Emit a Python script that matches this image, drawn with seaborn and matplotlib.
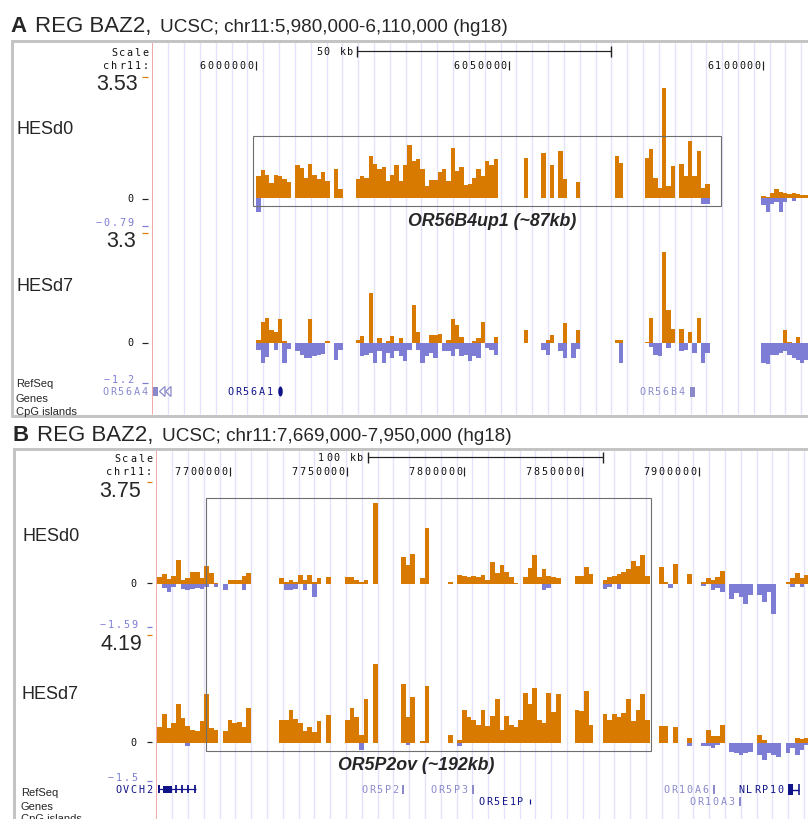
import numpy as np
import pandas as pd
import matplotlib
matplotlib.use("Agg")
import matplotlib.pyplot as plt
from matplotlib.patches import Rectangle, Polygon, Ellipse
import seaborn as sns

W, H = 808, 820
sns.set_theme(style="white")
plt.rcParams["font.family"] = ["Liberation Sans", "DejaVu Sans"]

_ = np.nan

# ---------------- data ----------------
# Panel A: chr11 5,980,000-6,110,000, signal binned at 0.85 kb
A_FIRST_KB, A_STEP_KB = 6000.6, 0.85
A_D0_POS = [
    0.66, 0.82, 0.69, 0.45, 0.69, 0.66, 0.55, 0.48, _, 0.98,
    0.89, 0.60, 1.01, 0.69, 0.55, 0.76, 0.50, _, 0.86, 0.26,
    _, _, _, 0.55, 0.65, 0.60, 1.24, 1.00, 0.86, 0.92,
    0.50, 0.69, 0.98, 0.50, 0.98, 1.55, 1.08, 1.13, 0.86, 0.36,
    0.53, 0.53, 0.76, 0.86, 0.50, 1.45, 0.80, 0.92, 0.38, 0.43,
    0.60, 0.84, 0.66, 1.08, 0.98, 1.13, _, _, _, _,
    _, _, 1.16, _, _, _, 1.32, _, 0.98, _,
    1.37, 0.55, _, _, 0.47, _, _, _, _, _,
    _, _, _, 1.24, 1.03, _, _, _, _, _,
    1.18, 1.42, 0.60, 0.30, 3.20, 0.36, 0.95, _, 1.00, 0.65,
    1.66, 0.65, 1.37, 0.30, 0.43, _, _, _, _, _,
    _, _, _, _, _, _, _, 0.07, 0.05, 0.16,
    0.28, 0.20, 0.15, 0.12, 0.15, 0.12, 0.10, 0.10,
]
A_D0_NEG = [
    -0.40, _, _, _, _, _, _, _, _, _,
    _, _, _, _, _, _, _, _, _, _,
    _, _, _, _, _, _, _, _, _, _,
    _, _, _, _, _, _, _, _, _, _,
    _, _, _, _, _, _, _, _, _, _,
    _, _, _, _, _, _, _, _, _, _,
    _, _, _, _, _, _, _, _, _, _,
    _, _, _, _, _, _, _, _, _, _,
    _, _, _, _, _, _, _, _, _, _,
    _, _, _, _, _, _, _, _, _, _,
    _, _, _, -0.15, -0.15, _, _, _, _, _,
    _, _, _, _, _, _, _, -0.20, -0.40, -0.15,
    -0.10, -0.38, -0.10, _, -0.08, _, _, _,
]
A_D7_POS = [
    0.10, 0.63, 0.74, 0.40, 0.32, 0.71, 0.05, _, _, _,
    _, _, 0.71, _, _, _, 0.07, _, _, _,
    _, _, _, 0.10, 0.22, _, 1.52, _, 0.15, _,
    0.07, 0.22, _, 0.15, _, _, 1.13, 0.32, _, _,
    0.25, 0.25, 0.28, _, 0.08, 0.71, 0.53, 0.18, _, _,
    0.05, 0.15, 0.63, _, _, 0.18, _, _, _, _,
    _, _, 0.38, _, _, _, _, 0.08, 0.25, _,
    _, 0.59, _, _, 0.38, _, _, _, _, _,
    _, _, _, 0.10, 0.10, _, _, _, _, _,
    0.04, 0.74, _, _, 2.73, 1.00, 0.42, _, 0.42, _,
    0.32, _, 0.74, _, _, _, _, _, _, _,
    _, _, _, _, _, _, _, _, _, _,
    _, _, 0.38, 0.04, _, 0.18, _, _,
]
A_D7_NEG = [
    -0.20, -0.60, -0.42, _, -0.20, _, -0.59, -0.18, _, -0.25,
    -0.35, -0.45, -0.45, -0.40, -0.35, -0.33, _, _, -0.52, -0.20,
    _, _, _, _, -0.40, -0.35, -0.30, -0.60, -0.25, -0.60,
    -0.30, -0.45, -0.25, -0.40, -0.55, -0.20, _, -0.20, -0.59, -0.40,
    -0.30, -0.45, _, -0.25, -0.25, -0.40, -0.18, -0.40, -0.35, -0.55,
    -0.40, -0.45, _, -0.15, -0.20, -0.35, _, _, _, _,
    _, _, _, _, _, _, -0.20, -0.35, _, _,
    -0.25, -0.45, _, -0.45, -0.18, _, _, _, _, _,
    _, _, _, _, -0.60, _, _, _, _, _,
    _, -0.12, -0.35, -0.40, _, -0.15, _, _, -0.25, -0.20,
    _, -0.30, _, -0.60, -0.30, _, _, _, _, _,
    _, _, _, _, _, _, _, -0.60, -0.62, -0.35,
    -0.35, -0.30, -0.25, -0.35, -0.45, -0.52, -0.60, -0.50,
]

# Panel B: chr11 7,669,000-7,950,000, signal binned at 2 kb
B_FIRST_KB, B_STEP_KB = 7670.0, 2.0
B_D0_POS = [
    0.25, 0.36, 0.18, 0.30, 0.90, 0.14, 0.20, 0.45, 0.45, 0.20,
    0.66, 0.41, 0.04, _, _, 0.16, 0.16, 0.16, 0.29, 0.41,
    _, _, _, _, _, _, 0.20, 0.07, 0.14, 0.08,
    0.33, 0.14, 0.33, 0.08, 0.20, _, 0.24, _, _, _,
    0.24, 0.24, 0.16, 0.07, 0.14, _, 3.00, _, _, _,
    _, _, 1.00, 0.70, 1.10, _, 0.20, 2.07, _, _,
    _, _, 0.07, _, 0.33, 0.30, 0.24, 0.29, 0.24, 0.33,
    0.14, 0.82, 0.40, 0.70, 0.45, 0.24, 0.04, _, 0.24, 0.60,
    1.06, 0.24, 0.55, 0.28, 0.24, 0.20, _, _, _, 0.29,
    0.30, 0.62, 0.35, _, _, 0.14, 0.24, 0.29, 0.35, 0.45,
    0.55, 0.86, 0.66, 1.05, 0.29, _, _, 0.61, 0.07, _,
    0.74, _, _, 0.36, _, _, 0.07, 0.20, 0.14, 0.24,
    0.49, _, _, _, _, _, _, _, _, _,
    _, _, _, _, 0.07, 0.20, 0.39, 0.20, 0.33,
]
B_D0_NEG = [
    _, -0.15, -0.30, -0.11, _, -0.18, -0.21, -0.20, -0.14, -0.18,
    -0.12, _, -0.12, _, -0.21, _, _, _, -0.24, _,
    _, _, _, _, _, _, _, -0.24, -0.21, -0.18,
    _, -0.24, _, -0.49, _, _, _, _, _, _,
    _, _, _, _, _, _, _, _, _, _,
    _, _, _, _, _, _, _, _, _, _,
    _, _, _, _, _, _, _, _, _, _,
    _, _, _, _, _, _, _, _, _, _,
    _, _, -0.21, -0.15, _, _, _, _, _, _,
    _, _, _, _, _, -0.18, -0.12, _, -0.20, _,
    _, _, _, _, _, _, _, _, _, -0.15,
    _, _, _, _, _, _, -0.09, _, -0.24, -0.15,
    -0.30, _, -0.55, -0.35, -0.50, -0.74, -0.40, _, -0.42, -0.68,
    -0.30, -1.10, _, _, _, -0.11, _, -0.11, _,
]
B_D7_POS = [
    0.61, 1.10, 0.57, 0.77, 1.52, 0.95, 0.65, 0.50, 0.45, 0.85,
    1.90, 0.57, 0.50, _, 0.44, 0.90, 0.75, 0.80, 0.60, 1.35,
    _, _, _, _, _, _, 0.90, 0.90, 1.29, 0.92,
    0.77, 0.44, 0.60, 0.40, 0.84, _, 1.06, _, _, _,
    0.90, 1.36, 1.00, 0.31, 1.71, _, 3.06, _, _, _,
    _, _, 2.27, 1.00, 1.79, _, 0.05, 2.20, _, _,
    _, _, 0.31, _, 0.12, 1.27, 1.00, 0.90, 0.70, 1.27,
    0.64, 1.03, 1.69, 0.50, 1.03, 0.70, 0.60, 0.90, 1.95, 1.50,
    2.14, 0.90, 0.75, 1.95, 1.20, 1.90, _, _, _, 1.29,
    1.22, 2.00, 0.70, _, _, 1.10, 0.90, 1.10, 1.00, 1.14,
    1.71, 0.85, 1.29, 1.88, 0.90, _, _, 0.64, 0.64, _,
    0.61, _, _, 0.18, _, _, _, 0.50, 0.25, 0.25,
    0.70, _, _, _, _, _, _, _, 0.31, 0.12,
    _, _, _, _, _, _, 0.20, 0.15, 0.20,
]
B_D7_NEG = [
    _, _, _, _, _, _, -0.12, _, _, _,
    _, _, _, _, _, _, _, _, _, _,
    _, _, _, _, _, _, _, _, _, _,
    _, _, _, _, _, _, _, _, _, _,
    _, _, _, -0.27, _, _, _, _, _, _,
    _, _, _, -0.08, _, _, _, _, _, _,
    _, _, _, _, -0.14, _, _, _, _, _,
    _, _, _, _, _, _, _, _, _, _,
    _, _, _, _, _, _, _, _, _, _,
    _, _, _, _, _, _, _, _, _, _,
    _, _, _, _, _, _, _, _, _, _,
    _, _, _, -0.14, _, _, -0.12, -0.14, -0.21, -0.10,
    _, _, -0.35, -0.40, -0.47, -0.40, -0.35, _, -0.47, -0.69,
    -0.40, -0.47, -0.56, _, -0.38, -0.20, -0.47, -0.28, -0.10,
]

# track view limits (min, max) as printed on the browser image
A_D0_RANGE = (-0.79, 3.53)
A_D7_RANGE = (-1.2, 3.3)
B_D0_RANGE = (-1.59, 3.75)
B_D7_RANGE = (-1.5, 4.19)

A_TICKS = [6000000, 6050000, 6100000]
B_TICKS = [7700000, 7750000, 7800000, 7850000, 7900000]

A_GENES = [("OR56A4", "light"), ("OR56A1", "dark"), ("OR56B4", "light")]
B_GENES = [("OVCH2", "dark"), ("OR5P2", "light"), ("OR5P3", "light"),
           ("OR5E1P", "dark"), ("OR10A6", "light"), ("NLRP10", "dark"),
           ("OR10A3", "light")]

# ---------------- style ----------------
ORANGE = "#D97A00"
BLUE = "#7D7DD6"
GRID = "#E2E2FB"
PINK = "#F2A9A9"
FRAME = "#C4C4C4"
GENE_COL = {"light": "#8A8ACB", "dark": "#101488"}
MONO = "DejaVu Sans Mono"

fig = plt.figure(figsize=(W / 100, H / 100), dpi=100)
fig.patch.set_facecolor("white")

bg = fig.add_axes([0, 0, 1, 1], zorder=0)
bg.set_xlim(0, W); bg.set_ylim(H, 0); bg.axis("off")


def px_axes(x0, y0, x1, y1, z):
    ax = fig.add_axes([x0 / W, 1 - y1 / H, (x1 - x0) / W, (y1 - y0) / H], zorder=z)
    ax.patch.set_alpha(0)
    return ax


top = px_axes(0, 0, W, H, 5)
top.set_xlim(0, W); top.set_ylim(H, 0); top.axis("off")


def mono(x_right, y, s, color="#111111", pitch=7.9, size=7.3, ax=None):
    ax = ax or top
    n = len(s)
    for k, ch in enumerate(s):
        cx = x_right - (n - k - 0.5) * pitch
        ax.text(cx, y, ch, ha="center", va="center", family=MONO,
                fontsize=size, color=color)


def hline(x0, x1, y, color, lw=1.0):
    top.plot([x0, x1], [y, y], color=color, lw=lw * 0.72, solid_capstyle="butt")


def vline(x, y0, y1, color, lw=1.0, ax=None):
    (ax or top).plot([x, x], [y0, y1], color=color, lw=lw * 0.72, solid_capstyle="butt")


def draw_track(x0, x1, y_top, y_bot, tick_px, px_per_kb, tick_kb,
               first_kb, step_kb, pos_vals, neg_vals, vrange):
    ax = px_axes(x0, y_top, x1, y_bot, 3)
    n = len(pos_vals)
    centers = first_kb + step_kb * np.arange(n)
    lo, hi = centers[0] - step_kb / 2, centers[-1] + step_kb / 2
    for vals, color in ((pos_vals, ORANGE), (neg_vals, BLUE)):
        v = np.asarray(vals, dtype=float)
        keep = ~np.isnan(v)
        df = pd.DataFrame({"pos": centers[keep], "signal": v[keep]})
        sns.histplot(data=df, x="pos", weights="signal", binwidth=step_kb,
                     binrange=(lo, hi), ax=ax, color=color, alpha=1,
                     linewidth=0, element="bars", fill=True)
    ax.set_xlim(tick_kb + (x0 - tick_px) / px_per_kb,
                tick_kb + (x1 - tick_px) / px_per_kb)
    ax.set_ylim(*vrange)
    ax.axis("off")
    return ax


def panel(letter, title_y, title_sub, frame_left, frame_top, frame_bot,
          data_left, grid_start, grid_step):
    top.plot([frame_left, frame_left, W + 5], [frame_bot, frame_top, frame_top],
             color=FRAME, lw=3 * 0.72, solid_joinstyle="miter")
    if frame_bot < H:
        top.plot([frame_left, W + 5], [frame_bot, frame_bot], color=FRAME, lw=3 * 0.72)
    x0 = frame_left - 1
    top.text(x0, title_y, letter, fontsize=16, fontweight="bold", va="baseline", ha="left")
    top.text(x0 + 24.5, title_y, "REG BAZ2,", fontsize=16, va="baseline", ha="left")
    top.text(x0 + 149.5, title_y, title_sub, fontsize=13.6, va="baseline", ha="left")
    gx = grid_start
    while gx < W:
        vline(gx, frame_top + 1.5, min(frame_bot - 1.5, H), GRID, lw=1.4, ax=bg)
        gx += grid_step
    vline(data_left, frame_top + 1.5, min(frame_bot - 1.5, H), PINK, lw=1.0, ax=bg)


# ---------------- panel A ----------------
A_TICK_PX, A_PX_PER_KB = 255.5, 5.077
panel("A", 32, "UCSC; chr11:5,980,000-6,110,000 (hg18)", 11.5, 41.5, 416.5,
      151.7, 168.3, 15.825)

mono(149.5, 52.7, "Scale")
mono(150.0, 66.0, "chr11:")
mono(354.5, 51.7, "50 kb")
sb0 = 356.7
sb1 = sb0 + 50 * A_PX_PER_KB
hline(sb0, sb1, 51.7, "#222222", 1.2)
vline(sb0, 46.7, 58.0, "#222222", 1.4)
vline(sb1, 46.7, 58.0, "#222222", 1.4)
for t in A_TICKS:
    tx = A_TICK_PX + (t / 1000 - 6000) * A_PX_PER_KB
    mono(tx - 1.5, 66.0, str(t))
    vline(tx, 61.5, 71.0, "#222222", 1.2)

draw_track(152, W, 77.7, 226.7, A_TICK_PX, A_PX_PER_KB, 6000,
           A_FIRST_KB, A_STEP_KB, A_D0_POS, A_D0_NEG, A_D0_RANGE)
draw_track(152, W, 234.3, 384.0, A_TICK_PX, A_PX_PER_KB, 6000,
           A_FIRST_KB, A_STEP_KB, A_D7_POS, A_D7_NEG, A_D7_RANGE)

top.text(137.5, 90, f"{A_D0_RANGE[1]:.2f}", fontsize=15.5, ha="right", va="baseline")
hline(142, 148, 77.7, ORANGE, 1.2)
top.text(16, 133.5, "HESd0", fontsize=13, ha="left", va="baseline")
mono(134.0, 199.5, "0")
hline(142, 148, 199.5, "#222222", 1.2)
mono(134.5, 222.7, f"{A_D0_RANGE[0]:.2f}".replace("-", "\u2212"), BLUE)
hline(142, 148, 226.7, BLUE, 1.2)

top.text(135.5, 246.7, f"{A_D7_RANGE[1]:g}", fontsize=15.5, ha="right", va="baseline")
hline(142, 148, 234.3, ORANGE, 1.2)
top.text(16, 290.7, "HESd7", fontsize=13, ha="left", va="baseline")
mono(134.0, 343.5, "0")
hline(142, 148, 343.5, "#222222", 1.2)
mono(134.5, 380.0, f"{A_D7_RANGE[0]:g}".replace("-", "\u2212"), BLUE)
hline(142, 148, 384.0, BLUE, 1.2)

for lab, yb in (("RefSeq", 387.3), ("Genes", 401.7), ("CpG islands", 415.0)):
    top.text(16, yb, lab, fontsize=8, ha="left", va="baseline")

a_label_right = [148.5, 273.5, 685.5]
for (name, tone), xr in zip(A_GENES, a_label_right):
    mono(xr, 392.0, name, GENE_COL[tone])
top.add_patch(Rectangle((153, 388), 5, 9, color=GENE_COL["light"], lw=0))
for tx0 in (159.5, 165.5):
    top.add_patch(Polygon([(tx0 + 5.5, 387.5), (tx0, 392.5), (tx0 + 5.5, 397.5)],
                          closed=True, fill=False, edgecolor=GENE_COL["light"], lw=0.9))
top.add_patch(Ellipse((280.5, 392.5), 4.5, 10, color=GENE_COL["dark"], lw=0))
top.add_patch(Rectangle((690, 388), 5, 10, color=GENE_COL["light"], lw=0))

top.add_patch(Rectangle((253, 136.7), 720.8 - 253, 207.3 - 136.7, fill=False,
                        edgecolor="#6E6E6E", lw=0.8))
top.text(492.5, 226.0, "OR56B4up1 (~87kb)", fontsize=12.8, fontweight="bold",
         fontstyle="italic", ha="center", va="baseline")

# ---------------- panel B ----------------
B_TICK_PX, B_PX_PER_KB = 230.0, 2.344
panel("B", 441.5, "UCSC; chr11:7,669,000-7,950,000 (hg18)", 13.5, 449.5, H + 10,
      155.7, 172.3, 15.79)

mono(153.0, 459.0, "Scale")
mono(152.5, 472.0, "chr11:")
mono(364.5, 457.7, "100 kb")
sb0 = 368.3
sb1 = sb0 + 100 * B_PX_PER_KB
hline(sb0, sb1, 457.7, "#222222", 1.2)
vline(sb0, 452.5, 463.5, "#222222", 1.4)
vline(sb1, 452.5, 463.5, "#222222", 1.4)
for t in B_TICKS:
    tx = B_TICK_PX + (t / 1000 - 7700) * B_PX_PER_KB
    mono(tx - 1.5, 472.0, str(t))
    vline(tx, 467.5, 477.0, "#222222", 1.2)

draw_track(156, W, 483.3, 628.0, B_TICK_PX, B_PX_PER_KB, 7700,
           B_FIRST_KB, B_STEP_KB, B_D0_POS, B_D0_NEG, B_D0_RANGE)
draw_track(156, W, 636.0, 782.3, B_TICK_PX, B_PX_PER_KB, 7700,
           B_FIRST_KB, B_STEP_KB, B_D7_POS, B_D7_NEG, B_D7_RANGE)

top.text(140.5, 497.0, f"{B_D0_RANGE[1]:.2f}", fontsize=15.5, ha="right", va="baseline")
hline(147, 152, 483.3, ORANGE, 1.2)
top.text(22.7, 541.5, "HESd0", fontsize=13, ha="left", va="baseline")
mono(137.5, 584.0, "0")
hline(147, 152, 584.0, "#222222", 1.2)
mono(138.5, 624.7, f"{B_D0_RANGE[0]:.2f}".replace("-", "\u2212"), BLUE)
hline(147, 152, 628.3, BLUE, 1.2)

top.text(142.0, 650.0, f"{B_D7_RANGE[1]:.2f}", fontsize=15.5, ha="right", va="baseline")
hline(147, 152, 636.0, ORANGE, 1.2)
top.text(21.7, 699.3, "HESd7", fontsize=13, ha="left", va="baseline")
mono(137.5, 742.7, "0")
hline(147, 152, 742.7, "#222222", 1.2)
mono(138.5, 778.0, f"{B_D7_RANGE[0]:g}".replace("-", "\u2212"), BLUE)
hline(147, 152, 782.3, BLUE, 1.2)

for lab, yb in (("RefSeq", 796.3), ("Genes", 809.8), ("CpG islands", 822.5)):
    top.text(20.7, yb, lab, fontsize=8, ha="left", va="baseline")

b_label_pos = [(153.5, 790), (399.5, 790), (468.5, 790), (524.5, 802),
               (709.5, 790), (784.5, 790), (735.5, 802)]
for (name, tone), (xr, yc) in zip(B_GENES, b_label_pos):
    mono(xr, yc, name, GENE_COL[tone])
dk, lt = GENE_COL["dark"], GENE_COL["light"]
hline(158, 196, 790, dk, 1.2)
top.add_patch(Rectangle((157.5, 786), 2.5, 8, color=dk, lw=0))
top.add_patch(Rectangle((163, 786.5), 8.5, 7, color=dk, lw=0))
for ex in (175.5, 181.5, 187.5, 194.5):
    vline(ex, 786, 794, dk, 1.8)
for gx, gy in ((403, 790), (473, 790), (714, 790), (740, 802)):
    top.add_patch(Rectangle((gx - 1.2, gy - 4.5), 2.4, 9, color=lt, lw=0))
vline(530, 799.5, 804.5, dk, 1.2)
top.add_patch(Rectangle((788, 785), 4.5, 11, color=dk, lw=0))
vline(798.5, 785, 796, dk, 1.6)
hline(792, 798.5, 790.5, dk, 1.4)

top.add_patch(Rectangle((206.4, 499.3), 651.2 - 206.4, 752.3 - 499.3, fill=False,
                        edgecolor="#6E6E6E", lw=0.8))
top.text(416.5, 770.0, "OR5P2ov (~192kb)", fontsize=12.8, fontweight="bold",
         fontstyle="italic", ha="center", va="baseline")

fig.savefig("out.png", dpi=100, facecolor="white")
